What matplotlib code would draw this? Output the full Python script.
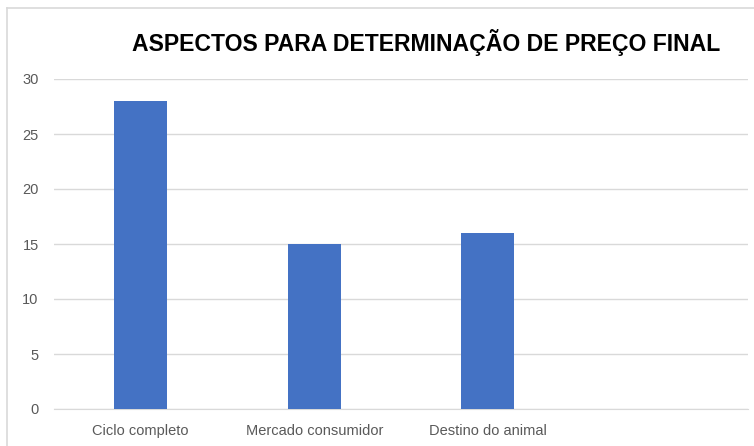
import matplotlib.pyplot as plt
from matplotlib.lines import Line2D

categories = ['Ciclo completo', 'Mercado consumidor', 'Destino do animal', '']
values = [28, 15, 16, 0]
yticks = [0, 5, 10, 15, 20, 25, 30]

plt.rcParams['font.family'] = ['Liberation Sans', 'DejaVu Sans']

fig = plt.figure(figsize=(7.54, 4.46), dpi=100)
ax = fig.add_axes([54/754, 1-409/446, 694/754, 330/446])

x = range(len(categories))
ax.bar(x[:3], values[:3], width=0.305, color='#4472C4', zorder=3)

ax.set_xlim(-0.5, 3.5)
ax.set_ylim(0, 30)
ax.set_yticks(yticks)
ax.set_xticks(list(x))
ax.set_xticklabels(categories)
ax.grid(axis='y', color='#d9d9d9', lw=1, zorder=0)
for s in ax.spines.values():
    s.set_visible(False)
ax.spines['bottom'].set_visible(True)
ax.spines['bottom'].set_color('#d9d9d9')
ax.tick_params(length=0, colors='#595959', labelsize=10.5)
ax.tick_params(axis='y', pad=11)
ax.tick_params(axis='x', pad=11)

fig.text(426/754, 1-43/446, 'ASPECTOS PARA DETERMINAÇÃO DE PREÇO FINAL',
         ha='center', va='center', fontsize=16.6, fontweight='bold', color='black')

# chart frame (cropped on the right and bottom)
fig.add_artist(Line2D([7/754, 7/754], [0, 1-8/446], color='#d9d9d9', lw=1.2))
fig.add_artist(Line2D([7/754, 1], [1-8/446, 1-8/446], color='#d9d9d9', lw=1.2))

fig.savefig('out.png', dpi=100)
